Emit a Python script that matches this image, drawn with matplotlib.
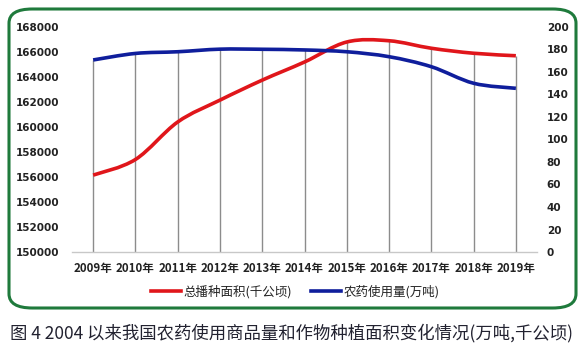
import matplotlib
matplotlib.use("Agg")
import matplotlib.pyplot as plt
from matplotlib.path import Path
from matplotlib.patches import PathPatch, FancyBboxPatch
from matplotlib.lines import Line2D
import numpy as np

plt.rcParams['font.family'] = ['Noto Sans CJK SC', 'DejaVu Sans']

years = ['2009年', '2010年', '2011年', '2012年', '2013年', '2014年',
         '2015年', '2016年', '2017年', '2018年', '2019年']
sown_area = [156150, 157400, 160400, 162150, 163750, 165200,
             166800, 166900, 166300, 165900, 165700]
pesticide = [170.7, 176.5, 178.0, 180.3, 180.2, 179.6,
             178.0, 173.6, 164.7, 150.0, 145.5]
left_ticks = [150000, 152000, 154000, 156000, 158000, 160000,
              162000, 164000, 166000, 168000]
right_ticks = [0, 20, 40, 60, 80, 100, 120, 140, 160, 180, 200]

W, H = 584, 353
fig = plt.figure(figsize=(W/100, H/100), dpi=100, facecolor='white')

def smooth_path(xs, ys):
    xs = np.asarray(xs, float); ys = np.asarray(ys, float)
    n = len(xs)
    verts = [(xs[0], ys[0])]
    codes = [Path.MOVETO]
    t = 1/6
    for i in range(n-1):
        p0 = (xs[max(i-1, 0)], ys[max(i-1, 0)])
        p1 = (xs[i], ys[i]); p2 = (xs[i+1], ys[i+1])
        p3 = (xs[min(i+2, n-1)], ys[min(i+2, n-1)])
        c1 = (p1[0] + (p2[0]-p0[0])*t, p1[1] + (p2[1]-p0[1])*t)
        c2 = (p2[0] - (p3[0]-p1[0])*t, p2[1] - (p3[1]-p1[1])*t)
        verts += [c1, c2, p2]
        codes += [Path.CURVE4]*3
    return Path(verts, codes)

# border
border = FancyBboxPatch((9/W, 1-308/H), (576-9)/W, (308-9)/H,
                        boxstyle="round,pad=0,rounding_size=0.04",
                        transform=fig.transFigure, facecolor='none',
                        edgecolor='#1f7a3c', linewidth=2.2, zorder=-5)
fig.patches.append(border)

L_MIN, L_MAX = 150000, 168000
R_MIN, R_MAX = 0, 200

ax = fig.add_axes([72/W, 1-252/H, (537-72)/W, (252-27)/H])
ax.set_facecolor('none')
x = np.arange(len(years))
ax.set_xlim(-0.5, len(years)-0.5)
ax.set_ylim(L_MIN, L_MAX)
ax.set_yticks(left_ticks)
ax.set_yticklabels([str(v) for v in left_ticks], fontsize=7.5, fontweight='bold',
                   family=['DejaVu Sans'], color='#222222')
ax.set_xticks(x)
ax.set_xticklabels(years, fontsize=8.3, fontweight='bold', color='#222222')
ax.tick_params(length=0, pad=9)
ax.tick_params(axis='x', pad=7)
for s in ['top', 'right', 'left']:
    ax.spines[s].set_visible(False)
ax.spines['bottom'].set_color('#c8c8c8')
ax.spines['bottom'].set_linewidth(1)

# drop lines from the higher series to the axis
fr_left = (np.array(sown_area) - L_MIN) / (L_MAX - L_MIN)
fr_right = (np.array(pesticide) - R_MIN) / (R_MAX - R_MIN)
tops = L_MIN + np.maximum(fr_left, fr_right) * (L_MAX - L_MIN)
ax.vlines(x, L_MIN, tops, color='#8c8c8c', linewidth=1, zorder=1)

ax2 = ax.twinx()
ax2.set_ylim(R_MIN, R_MAX)
ax2.set_yticks(right_ticks)
ax2.set_yticklabels([str(v) for v in right_ticks], fontsize=7.5, fontweight='bold',
                    family=['DejaVu Sans'], color='#222222')
ax2.tick_params(length=0, pad=7)
for s in ['top', 'right', 'left', 'bottom']:
    ax2.spines[s].set_visible(False)

ax.add_patch(PathPatch(smooth_path(x, sown_area), facecolor='none',
                       edgecolor='#e0161b', linewidth=2.6, zorder=3,
                       capstyle='butt'))
ax2.add_patch(PathPatch(smooth_path(x, pesticide), facecolor='none',
                        edgecolor='#0f1e9c', linewidth=2.6, zorder=3,
                        capstyle='butt'))

handles = [Line2D([], [], color='#e0161b', linewidth=2.6),
           Line2D([], [], color='#0f1e9c', linewidth=2.6)]
fig.legend(handles, ['总播种面积(千公顷)', '农药使用量(万吨)'],
           loc='center', bbox_to_anchor=(295/W, 1-292/H), ncol=2,
           frameon=False, fontsize=9, handlelength=2.4, handletextpad=0.2,
           columnspacing=1.5, labelcolor='#222222')

fig.text(292/W, 1-333/H, '图 4 2004 以来我国农药使用商品量和作物种植面积变化情况(万吨,千公顷)',
         ha='center', va='center', fontsize=12.5, color='#222230')

fig.savefig('out.png', dpi=100)
